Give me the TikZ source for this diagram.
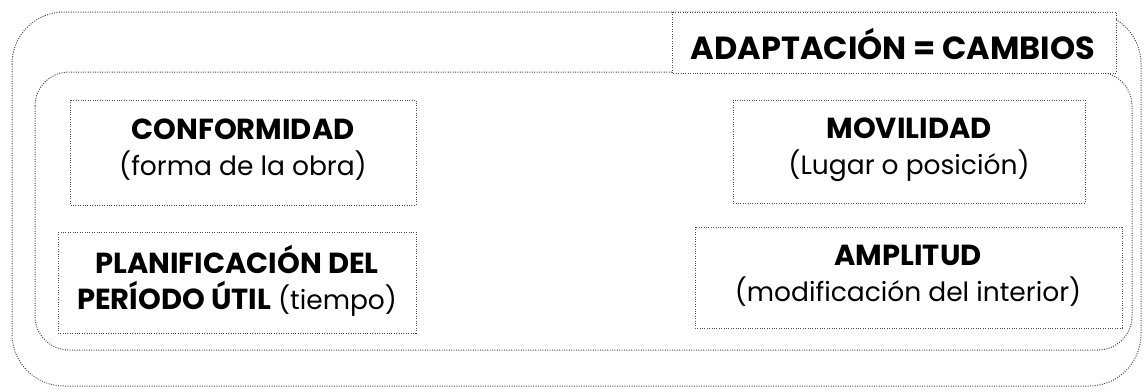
\documentclass[tikz,border=0pt]{standalone}
\usepackage{fontspec}
\setmainfont{Poppins}
\newcommand{\bigb}[1]{{\fontsize{29}{36}\selectfont\bfseries #1}}
\begin{document}
\begin{tikzpicture}[x=1pt,y=-1pt,
  dot/.style={draw=black!70, line width=1pt, dash pattern=on 1pt off 1.4pt},
  lbl/.style={align=center, inner sep=0pt, font=\fontsize{26.5}{36}\selectfont},
  ttl/.style={inner sep=0pt, font=\fontsize{32}{38}\selectfont\bfseries}]
\useasboundingbox (0,0) rectangle (1145,391);
% outer frame
\draw[dot, rounded corners=52pt] (12,12) rectangle (1141,386);
% inner frame
\draw[dot, rounded corners=34pt] (35,72) rectangle (1132,350);
% title box
\draw[dot, fill=white] (672,12) rectangle (1116,73);
\node[ttl] (title) at (893,44) {ADAPTACIÓN = CAMBIOS};
% boxes
\draw[dot] (70,100) rectangle (416,205);
\node[lbl] (conf) at (243,150) {\bigb{CONFORMIDAD}\\(forma de la obra)};
\draw[dot] (733,100) rectangle (1085,203);
\node[lbl] (mov) at (909,150) {\bigb{MOVILIDAD}\\(Lugar o posición)};
\draw[dot] (58,232) rectangle (416,333);
\node[lbl] (plan) at (237,281) {\bigb{PLANIFICACIÓN DEL}\\\bigb{PERÍODO ÚTIL} (tiempo)};
\draw[dot] (695,227) rectangle (1122,328);
\node[lbl] (amp) at (908,276) {\bigb{AMPLITUD}\\(modificación del interior)};
\end{tikzpicture}
\end{document}
